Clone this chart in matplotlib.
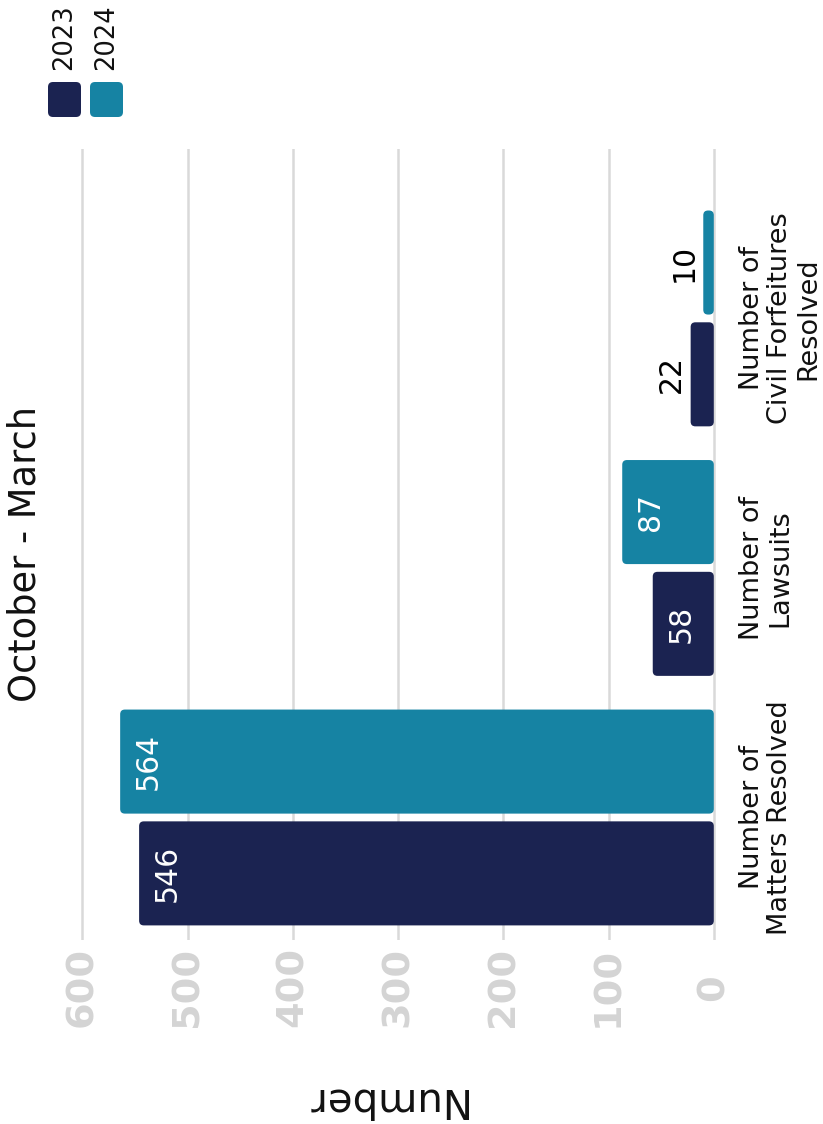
import matplotlib
matplotlib.use("Agg")
import matplotlib.pyplot as plt
from matplotlib.patches import FancyBboxPatch
from matplotlib import transforms

# ---- data ----
categories = ["Number of\nMatters Resolved", "Number of\nLawsuits", "Number of\nCivil Forfeitures\nResolved"]
series_names = ["2023", "2024"]
values_2023 = [546, 58, 22]
values_2024 = [564, 87, 10]
tick_values = [0, 100, 200, 300, 400, 500, 600]
title = "October - March"
value_axis_label = "Number"

colors = ["#1b2351", "#1683a3"]
grid_color = "#d9d9d9"
tick_color = "#d4d4d4"

plt.rcParams["font.family"] = ["DejaVu Sans"]

W, H = 823, 1124
fig = plt.figure(figsize=(W / 100, H / 100), dpi=100)
fig.patch.set_facecolor("white")

# axes box in pixels: x 77..719, y 149..940 (from top)
ax = fig.add_axes([77 / W, (H - 940) / H, 642 / W, 791 / H])
ax.set_xlim(605, -4.94)
ax.set_ylim(-0.491, 2.679)

bar_h = 0.417
offset = 0.224
ypos = list(range(len(categories)))

series = [values_2023, values_2024]
for i, (vals, col) in enumerate(zip(series, colors)):
    sign = -1 if i == 0 else 1
    ys = [y + sign * offset for y in ypos]
    bars = ax.barh(ys, vals, height=bar_h, color=col)
    for rect, v, yb in zip(bars, vals, ys):
        x0, y0 = rect.get_x(), rect.get_y()
        w, h = rect.get_width(), rect.get_height()
        rect.set_visible(False)
        r = 4.5
        patch = FancyBboxPatch((x0, y0), w, h,
                               boxstyle=f"round,pad=0,rounding_size={min(r, w / 2)}",
                               mutation_aspect=0.0042,
                               facecolor=col, edgecolor="none", zorder=3)
        ax.add_patch(patch)
        if v > 40:
            ax.annotate(str(v), xy=(v, yb), xytext=(10, 0), textcoords="offset points",
                        ha="left", va="center", rotation=90, color="white",
                        fontsize=21.5, zorder=4)
        else:
            ax.annotate(str(v), xy=(v, yb), xytext=(-3.5, 0), textcoords="offset points",
                        ha="right", va="center", rotation=90, color="black",
                        fontsize=21.5, zorder=4)

# value axis
ax.set_xticks(tick_values)
ax.set_xticklabels([str(t) for t in tick_values], rotation=90, fontsize=27.5,
                   fontweight="bold", color=tick_color)
for lab in ax.get_xticklabels():
    lab.set_va("center")
ax.tick_params(axis="x", length=0, pad=34)
ax.set_yticks([])
ax.grid(axis="x", color=grid_color, linewidth=1.8)
ax.set_axisbelow(True)
for s in ax.spines.values():
    s.set_visible(False)

# category labels below the baseline
blend = transforms.blended_transform_factory(fig.transFigure, ax.transData)
for y, cat in zip(ypos, categories):
    ax.text(739 / W, y, cat, transform=blend, rotation=90, ha="left", va="center",
            multialignment="center", fontsize=19.5, color="#111111", linespacing=1.1,
            clip_on=False)

# title and axis label
fig.text(25 / W, 1 - 554 / H, title, rotation=90, ha="center", va="center",
         fontsize=26.5, color="#111111")
fig.text(384 / W, 1 - 1099 / H, value_axis_label, rotation=180, ha="center", va="center",
         fontsize=29, color="#111111")

# legend
leg_x = [48, 90]
for name, col, lx in zip(series_names, colors, leg_x):
    sq = FancyBboxPatch((lx / 100, (H - 117) / 100), 0.33, 0.35,
                        boxstyle="round,pad=0,rounding_size=0.05",
                        facecolor=col, edgecolor="none",
                        transform=fig.dpi_scale_trans)
    fig.patches.append(sq)
    fig.text((lx + 16) / W, 1 - 37 / H, name, rotation=90, ha="center", va="center",
             fontsize=18.5, color="#111111")

fig.savefig("out.png", dpi=100)
